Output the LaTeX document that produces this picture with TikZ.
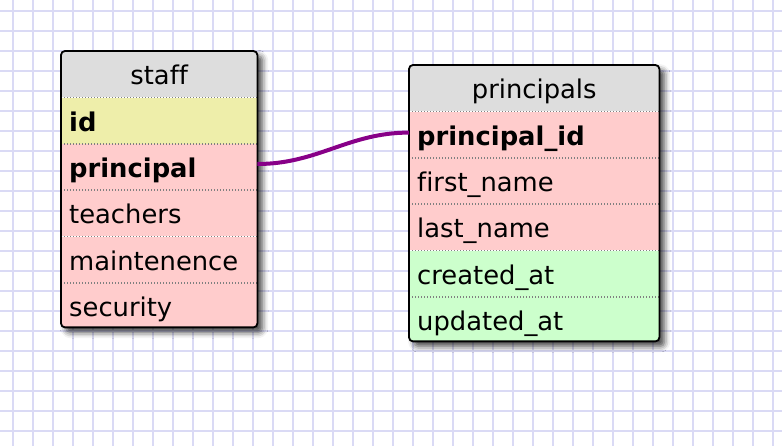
\documentclass[tikz,border=0pt]{standalone}
\usepackage{fontspec}
\setmainfont{DejaVu Sans}[Ligatures=NoCommon]
\usepackage{tikz}
\usetikzlibrary{positioning, shadows.blur}
\definecolor{gridblue}{RGB}{218,218,245}
\definecolor{headgray}{RGB}{221,221,221}
\definecolor{keyyellow}{RGB}{238,238,170}
\definecolor{fieldpink}{RGB}{255,204,204}
\definecolor{stampgreen}{RGB}{204,255,204}
\definecolor{linkpurple}{RGB}{136,0,136}
\tikzstyle{gridline} = [draw=gridblue, line width=1.6pt]
\tikzstyle{tablebox} = [rectangle, rounded corners=4pt, fill=white, anchor=north west, inner sep=0pt, blur shadow={shadow xshift=5pt, shadow yshift=-5pt, shadow blur radius=6pt, shadow opacity=75}]
\tikzstyle{tableedge} = [draw=black, line width=1.8pt, rounded corners=4pt]
\tikzstyle{sepline} = [draw=black!50, line width=1.5pt, dash pattern=on 1.3pt off 1.7pt]
\tikzstyle{row} = [rectangle, minimum height=46pt, inner xsep=8pt, inner ysep=0pt, text height=21pt, text depth=0pt, align=left, font=\fontsize{25.8}{30}\selectfont]
\tikzstyle{head} = [row, fill=headgray, align=center]
\tikzstyle{keyfield} = [row, fill=keyyellow, font=\fontsize{25.8}{30}\selectfont\bfseries]
\tikzstyle{linkfield} = [row, fill=fieldpink, font=\fontsize{25.8}{30}\selectfont\bfseries]
\tikzstyle{field} = [row, fill=fieldpink]
\tikzstyle{stampfield} = [row, fill=stampgreen]
\tikzstyle{link} = [draw=linkpurple, line width=4pt]
\begin{document}
\begin{tikzpicture}[x=1pt, y=-1pt]
\useasboundingbox (0,0) rectangle (782,446);

% background grid
\foreach \x in {13,33,...,773} \draw[gridline] (\x,0) -- (\x,446);
\foreach \y in {11,31,...,431} \draw[gridline] (0,\y) -- (782,\y);

% staff table
\begin{scope}[every node/.append style={text width=180pt}]
\node (staff) [tablebox, minimum width=196pt, minimum height=276pt] at (61,51) {};
\begin{scope}
\clip[rounded corners=4pt] (staff.north west) rectangle (staff.south east);
\node (staff-head) [head, anchor=north west] at (staff.north west) {staff};
\node (staff-id) [keyfield, below=0pt of staff-head] {id};
\node (staff-principal) [linkfield, below=0pt of staff-id] {principal};
\node (staff-teachers) [field, below=0pt of staff-principal] {teachers};
\node (staff-maintenence) [field, below=0pt of staff-teachers] {maintenence};
\node (staff-security) [field, below=0pt of staff-maintenence] {security};
\foreach \r in {id,principal,teachers,maintenence,security}
  \draw[sepline] (staff-\r.north west) -- (staff-\r.north east);
\end{scope}
\draw[tableedge] (staff.north west) rectangle (staff.south east);
\end{scope}

% principals table
\begin{scope}[every node/.append style={text width=234pt}]
\node (principals) [tablebox, minimum width=250pt, minimum height=276pt] at (409,65) {};
\begin{scope}
\clip[rounded corners=4pt] (principals.north west) rectangle (principals.south east);
\node (principals-head) [head, anchor=north west] at (principals.north west) {principals};
\node (principals-principal_id) [linkfield, below=0pt of principals-head] {principal\_id};
\node (principals-first_name) [field, below=0pt of principals-principal_id] {first\_name};
\node (principals-last_name) [field, below=0pt of principals-first_name] {last\_name};
\node (principals-created_at) [stampfield, below=0pt of principals-last_name] {created\_at};
\node (principals-updated_at) [stampfield, below=0pt of principals-created_at] {updated\_at};
\foreach \r in {principal_id,first_name,last_name,created_at,updated_at}
  \draw[sepline] (principals-\r.north west) -- (principals-\r.north east);
\end{scope}
\draw[tableedge] (principals.north west) rectangle (principals.south east);
\end{scope}

% relation
\draw[link] ([yshift=3pt]staff-principal.east) to[out=0, in=180] ([yshift=2pt]principals-principal_id.west);

\end{tikzpicture}
\end{document}
